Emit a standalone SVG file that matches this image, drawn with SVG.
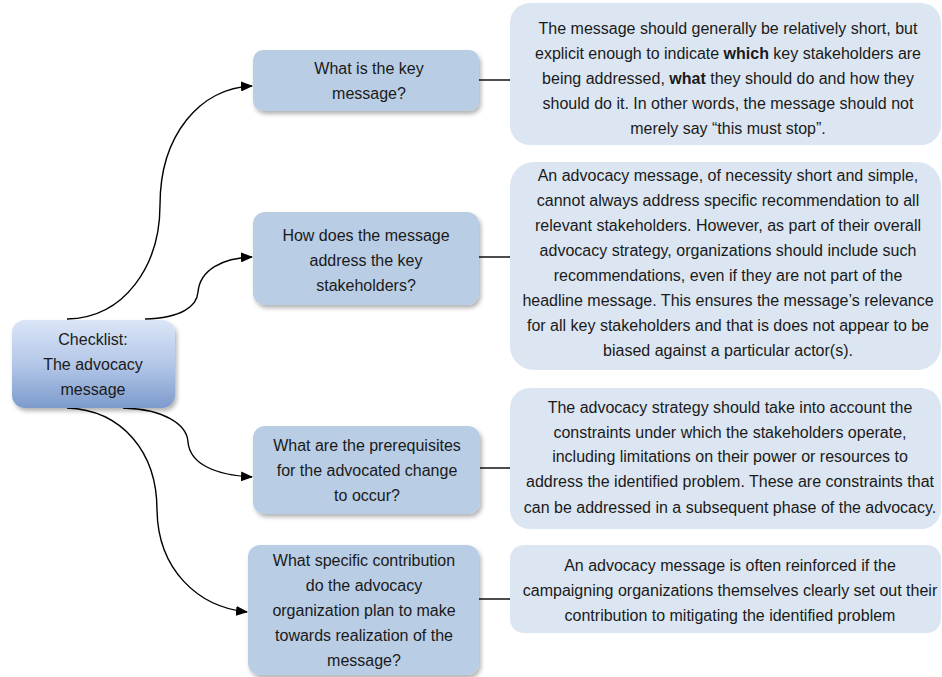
<svg xmlns="http://www.w3.org/2000/svg" width="942" height="677" viewBox="0 0 942 677">
<defs>
<linearGradient id="rootGrad" x1="0" y1="0" x2="0" y2="1">
<stop offset="0" stop-color="#dbe5f7"/>
<stop offset="0.5" stop-color="#b4c7e8"/>
<stop offset="1" stop-color="#7c9bcc"/>
</linearGradient>
<filter id="shadow" x="-10%" y="-10%" width="125%" height="130%">
<feDropShadow dx="2" dy="3" stdDeviation="2" flood-color="#000" flood-opacity="0.3"/>
</filter>
<marker id="arrow" markerUnits="userSpaceOnUse" markerWidth="12" markerHeight="10" refX="11" refY="5" orient="auto">
<path d="M0,0 L12,5 L0,10 Z" fill="#000"/>
</marker>
</defs>
<style>
text { font-family: "Liberation Sans", Arial, sans-serif; font-size: 16px; fill: #1a1a1a; text-anchor: middle; }
.node { fill: #b9cde5; filter: url(#shadow); }
.note { fill: #dce6f2; }
.conn { fill: none; stroke: #000; stroke-width: 1.4; }
.curve { fill: none; stroke: #000; stroke-width: 1.4; marker-end: url(#arrow); }
b, .b { font-weight: bold; }
</style>

<g id="connectors">
<path class="curve" d="M67,319 C125,318 160,265 160,205 C160,135 200,88 252,86"/>
<path class="curve" d="M145,319 C182,318 197,306 198,292 C200,270 222,258 252,257"/>
<path class="curve" d="M123,408 C163,409 187,424 188,442 C190,464 215,475 252,477"/>
<path class="curve" d="M67,408 C122,410 157,452 157,510 C158,570 198,607 247,612"/>
<line class="conn" x1="479" y1="80" x2="510" y2="80"/>
<line class="conn" x1="479" y1="257" x2="510" y2="257"/>
<line class="conn" x1="480" y1="468" x2="510" y2="468"/>
<line class="conn" x1="479" y1="599" x2="510" y2="599"/>
</g>

<g id="root">
<rect x="12" y="320" width="163" height="88" rx="13" fill="url(#rootGrad)" filter="url(#shadow)"/>
<text x="93" y="345">Checklist:</text>
<text x="93" y="370">The advocacy</text>
<text x="93" y="395">message</text>
</g>

<g id="q1">
<rect class="node" x="253" y="50" width="226" height="61" rx="10"/>
<text x="369" y="74">What is the key</text>
<text x="369" y="99">message?</text>
</g>

<g id="q2">
<rect class="node" x="253" y="212" width="226" height="93" rx="12"/>
<text x="366" y="241">How does the message</text>
<text x="366" y="266">address the key</text>
<text x="366" y="291">stakeholders?</text>
</g>

<g id="q3">
<rect class="node" x="253" y="426" width="227" height="88" rx="12"/>
<text x="367" y="451">What are the prerequisites</text>
<text x="367" y="476">for the advocated change</text>
<text x="367" y="501">to occur?</text>
</g>

<g id="q4">
<rect class="node" x="248" y="545" width="231" height="130" rx="12"/>
<text x="364" y="566">What specific contribution</text>
<text x="364" y="591">do the advocacy</text>
<text x="364" y="616">organization plan to make</text>
<text x="364" y="641">towards realization of the</text>
<text x="364" y="666">message?</text>
</g>

<g id="a1">
<rect class="note" x="510" y="3" width="431" height="142" rx="20"/>
<text x="728" y="34">The message should generally be relatively short, but</text>
<text x="728" y="59">explicit enough to indicate <tspan class="b">which</tspan> key stakeholders are</text>
<text x="728" y="84">being addressed, <tspan class="b">what</tspan> they should do and how they</text>
<text x="728" y="109">should do it. In other words, the message should not</text>
<text x="728" y="134">merely say “this must stop”.</text>
</g>

<g id="a2">
<rect class="note" x="510" y="162" width="431" height="208" rx="24"/>
<text x="728" y="181">An advocacy message, of necessity short and simple,</text>
<text x="728" y="206">cannot always address specific recommendation to all</text>
<text x="728" y="231">relevant stakeholders. However, as part of their overall</text>
<text x="728" y="256">advocacy strategy, organizations should include such</text>
<text x="728" y="281">recommendations, even if they are not part of the</text>
<text x="728" y="306">headline message. This ensures the message’s relevance</text>
<text x="728" y="331">for all key stakeholders and that is does not appear to be</text>
<text x="728" y="356">biased against a particular actor(s).</text>
</g>

<g id="a3">
<rect class="note" x="510" y="388" width="431" height="141" rx="20"/>
<text x="730" y="413">The advocacy strategy should take into account the</text>
<text x="730" y="438">constraints under which the stakeholders operate,</text>
<text x="730" y="462">including limitations on their power or resources to</text>
<text x="730" y="487">address the identified problem. These are constraints that</text>
<text x="730" y="513">can be addressed in a subsequent phase of the advocacy.</text>
</g>

<g id="a4">
<rect class="note" x="510" y="545" width="431" height="88" rx="14"/>
<text x="730" y="571">An advocacy message is often reinforced if the</text>
<text x="730" y="596">campaigning organizations themselves clearly set out their</text>
<text x="730" y="621">contribution to mitigating the identified problem</text>
</g>
</svg>
